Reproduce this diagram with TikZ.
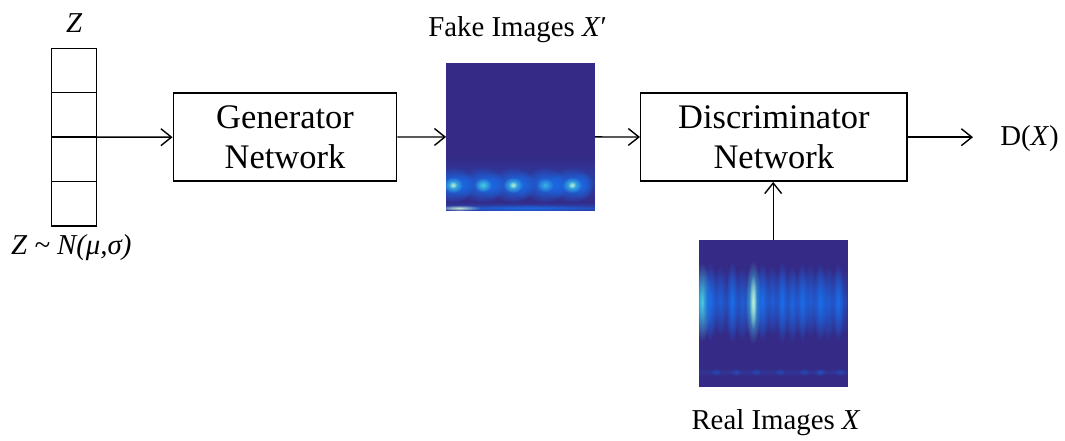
\documentclass[tikz,border=0pt]{standalone}
\usepackage{fontspec}
\setmainfont{Liberation Serif}
\usetikzlibrary{positioning}
\usetikzlibrary{arrows.meta, fadings}

\definecolor{specbg}{RGB}{53,42,134}
\definecolor{specblue}{RGB}{25,110,235}
\definecolor{speccyan}{RGB}{70,205,225}
\definecolor{speclight}{RGB}{215,240,205}
\tikzfading[name=softblob, inner color=transparent!0, outer color=transparent!100]
\tikzfading[name=softband, top color=transparent!100, bottom color=transparent!100, middle color=transparent!20]

\begin{document}
\begin{tikzpicture}[
  netbox/.style={draw, line width=1pt, minimum height=2.2cm, align=center, font=\fontsize{24.5pt}{28.5pt}\selectfont},
  zcell/.style={draw, line width=1pt, outer sep=0pt, inner sep=0pt, minimum width=1.125cm, minimum height=1.11cm},
  spec/.style={fill=specbg, inner sep=0pt, outer sep=0pt, minimum width=3.72cm, minimum height=3.69cm},
  lbl/.style={font=\fontsize{20.5pt}{24pt}\selectfont, inner sep=0pt},
  flow/.style={line width=1pt, -{Straight Barb[length=7.5pt,width=12pt]}},
]
\useasboundingbox (0,0) rectangle (26.625,11);

% latent vector
\node[zcell] (z1) at (1.855,9.235) {};
\node[zcell, below=0cm of z1] (z2) {};
\node[zcell, below=0cm of z2] (z3) {};
\node[zcell, below=0cm of z3] (z4) {};
\node[lbl, anchor=base] (zname) at (1.855,10.175) {\textit{Z}};
\node[lbl, anchor=base] (zdist) at (1.78,4.625) {\textit{Z \textasciitilde{} N(μ,σ)}};

% networks
\node[netbox, minimum width=5.585cm] (gen) at (7.125,7.57) {Generator\\Network};
\node[netbox, minimum width=6.66cm] (disc) at (19.346,7.57) {Discriminator\\Network};

% spectrogram images
\node[spec] (fake) at (13.0125,7.579) {};
\node[spec] (real) at (19.33,3.1625) {};
\node[lbl, anchor=base] (fakename) at (12.94,10.075) {Fake Images \textit{X}′};
\node[lbl, anchor=base] (realname) at (19.4,0.275) {Real Images \textit{X}};

\begin{scope}
\clip (fake.south west) rectangle (fake.north east);
\fill[specblue, opacity=0.35, path fading=softband] (11.15,5.9) rectangle (14.875,7.1);
\fill[specblue, opacity=0.6, path fading=softband] (11.15,5.65) rectangle (14.875,5.95);
\fill[specblue, path fading=softblob] (11.325,6.375) ellipse (0.55 and 0.45);
\fill[specblue, path fading=softblob] (12.075,6.375) ellipse (0.55 and 0.45);
\fill[specblue, path fading=softblob] (12.825,6.375) ellipse (0.55 and 0.45);
\fill[specblue, path fading=softblob] (13.625,6.375) ellipse (0.55 and 0.45);
\fill[specblue, path fading=softblob] (14.3,6.375) ellipse (0.55 and 0.45);
\fill[specblue, opacity=0.7, path fading=softblob] (11.575,6.375) ellipse (0.3 and 0.36);
\fill[specblue, opacity=0.7, path fading=softblob] (12.325,6.375) ellipse (0.3 and 0.36);
\fill[specblue, opacity=0.7, path fading=softblob] (13.075,6.375) ellipse (0.3 and 0.36);
\fill[specblue, opacity=0.7, path fading=softblob] (13.9,6.375) ellipse (0.3 and 0.36);
\fill[specblue, opacity=0.7, path fading=softblob] (14.55,6.375) ellipse (0.3 and 0.36);
\fill[speccyan, path fading=softblob] (11.325,6.375) ellipse (0.25 and 0.2);
\fill[speccyan, path fading=softblob] (12.075,6.375) ellipse (0.22 and 0.18);
\fill[speccyan, path fading=softblob] (12.825,6.375) ellipse (0.25 and 0.2);
\fill[speccyan, opacity=0.7, path fading=softblob] (13.625,6.375) ellipse (0.22 and 0.18);
\fill[speccyan, path fading=softblob] (14.3,6.375) ellipse (0.25 and 0.2);
\fill[speclight, opacity=0.8, path fading=softblob] (11.325,6.375) ellipse (0.1 and 0.09);
\fill[speclight, opacity=0.8, path fading=softblob] (12.825,6.375) ellipse (0.1 and 0.09);
\fill[speclight, opacity=0.8, path fading=softblob] (14.3,6.375) ellipse (0.1 and 0.09);
\fill[speclight, path fading=softblob] (11.5,5.8) ellipse (0.55 and 0.07);
\fill[specblue, opacity=0.8, path fading=softblob] (13.2,5.8) ellipse (2.0 and 0.09);
\end{scope}

\begin{scope}
\clip (real.south west) rectangle (real.north east);
\fill[specblue, opacity=0.55, path fading=softband] (17.475,2.6) rectangle (21.19,4.3);
\fill[speccyan, path fading=softblob] (17.55,3.45) ellipse (0.22 and 1.0);
\fill[specblue, path fading=softblob] (17.75,3.45) ellipse (0.18 and 1.0);
\fill[specblue, opacity=0.6, path fading=softblob] (18.0,3.5) ellipse (0.18 and 0.9);
\fill[specblue, path fading=softblob] (18.3,3.45) ellipse (0.16 and 1.05);
\fill[specblue, opacity=0.6, path fading=softblob] (18.55,3.4) ellipse (0.18 and 0.95);
\fill[speccyan, path fading=softblob] (18.825,3.45) ellipse (0.2 and 1.05);
\fill[speclight, opacity=0.9, path fading=softblob] (18.825,3.45) ellipse (0.09 and 0.7);
\fill[specblue, path fading=softblob] (19.05,3.45) ellipse (0.18 and 1.0);
\fill[specblue, opacity=0.6, path fading=softblob] (19.3,3.5) ellipse (0.18 and 0.9);
\fill[specblue, path fading=softblob] (19.55,3.45) ellipse (0.16 and 1.05);
\fill[specblue, opacity=0.8, path fading=softblob] (19.8,3.4) ellipse (0.18 and 1.0);
\fill[specblue, path fading=softblob] (20.05,3.45) ellipse (0.16 and 1.0);
\fill[specblue, opacity=0.6, path fading=softblob] (20.25,3.5) ellipse (0.18 and 0.95);
\fill[specblue, path fading=softblob] (20.5,3.45) ellipse (0.18 and 1.0);
\fill[specblue, opacity=0.6, path fading=softblob] (20.7,3.4) ellipse (0.18 and 1.0);
\fill[specblue, path fading=softblob] (20.95,3.45) ellipse (0.16 and 1.0);
\fill[specblue, opacity=0.2, path fading=softband] (17.475,1.6) rectangle (21.19,1.8);
\fill[specblue, opacity=0.35, path fading=softblob] (17.9,1.7) ellipse (0.15 and 0.1);
\fill[specblue, opacity=0.35, path fading=softblob] (18.4,1.7) ellipse (0.15 and 0.1);
\fill[specblue, opacity=0.35, path fading=softblob] (18.9,1.7) ellipse (0.15 and 0.1);
\fill[specblue, opacity=0.35, path fading=softblob] (19.5,1.7) ellipse (0.15 and 0.1);
\fill[specblue, opacity=0.35, path fading=softblob] (20.1,1.7) ellipse (0.15 and 0.1);
\fill[specblue, opacity=0.5, path fading=softblob] (20.5,1.7) ellipse (0.15 and 0.1);
\fill[specblue, opacity=0.35, path fading=softblob] (21.0,1.7) ellipse (0.15 and 0.1);
\end{scope}

% output
\coordinate (dend) at (24.325,7.57);
\node[lbl, anchor=base west] (dout) at (25.0,7.35) {D(\textit{X})};

% connectors
\draw[flow] (z2.south) -- (gen.west);
\draw[flow] (gen) -- (fake);
\draw[flow] (fake) -- (disc);
\draw[flow] (disc.east) -- (dend);
\draw[flow] (real.north) -- (real.north |- disc.south);

\end{tikzpicture}
\end{document}
